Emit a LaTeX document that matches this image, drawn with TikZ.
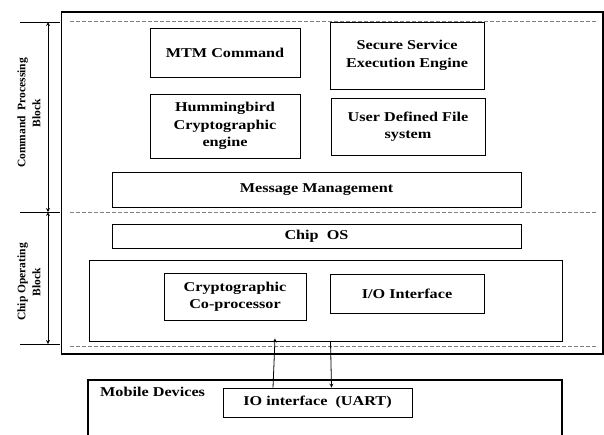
\documentclass[tikz,border=0pt]{standalone}
\usepackage{fontspec}
\setmainfont{Liberation Serif}[FakeStretch=1.2]
\newfontfamily\sidefont{Liberation Serif}
\usepackage{tikz}

\begin{document}
\begin{tikzpicture}[x=1pt, y=-1pt, >=stealth,
  blk/.style = {draw, line width=0.8pt, align=center, inner sep=0pt, font=\fontsize{13.5}{17.5}\selectfont\bfseries},
  frame/.style = {draw, line width=1.6pt, inner sep=0pt},
  sep/.style = {draw=gray, line width=0.8pt, dash pattern=on 4pt off 2pt},
  side/.style = {rotate=90, align=center, font=\fontsize{11.5}{15}\sidefont\bfseries}]
\useasboundingbox (0,0) rectangle (604,434);
\clip (0,0) rectangle (604,434);

% smart card
\node[frame, minimum width=541.5pt, minimum height=342pt] (card) at (332.25,183) {};
\node[blk, minimum width=150pt, minimum height=49pt] (mtm) at (225,52.5) {MTM Command};
\node[blk, minimum width=154pt, minimum height=67pt] (sse) at (407,55.5) {Secure Service\\Execution Engine};
\node[blk, minimum width=150pt, minimum height=64pt] (hum) at (225,126) {Hummingbird\\Cryptographic\\engine};
\node[blk, minimum width=154pt, minimum height=57pt] (udf) at (408,126.5) {User Defined File\\system};
\node[blk, minimum width=409pt, minimum height=35pt] (msg) at (316.5,189.5) {Message Management};
\node[blk, minimum width=409pt, minimum height=24pt] (chipos) at (316.5,236) {Chip\ \ OS};
\node[blk, minimum width=473pt, minimum height=81pt] (hw) at (325.5,300.5) {};
\node[blk, minimum width=142pt, minimum height=47pt] (cop) at (235,296.5) {Cryptographic\\Co-processor};
\node[blk, minimum width=154pt, minimum height=39pt] (io) at (407,293.5) {I/O Interface};

% layers
\coordinate (s1a) at (70,21);  \coordinate (s1b) at (597,21);
\coordinate (s2a) at (70,212); \coordinate (s2b) at (597,212);
\coordinate (s3a) at (70,346); \coordinate (s3b) at (597,346);
\draw[sep] (s1a) -- (s1b);
\draw[sep] (s2a) -- (s2b);
\draw[sep] (s3a) -- (s3b);

% block markers
\coordinate (t1) at (48,22);
\coordinate (t2) at (48,212);
\coordinate (t3) at (48,344);
\foreach \t in {t1,t2,t3}
  \draw[line width=0.8pt] ([xshift=-28pt]\t) -- ([xshift=12pt]\t);
\draw[<->, line width=0.8pt] (t1) -- (t2);
\draw[<->, line width=0.8pt] (t2) -- (t3);
\node[side] (cpb) at (29,113) {Command\ \ Processing\\Block};
\node[side] (cob) at (29,282) {Chip Operating\\Block};

% mobile side
\node[frame, minimum width=474pt, minimum height=100pt] (mob) at (325,430) {};
\node[anchor=west, inner sep=0pt, font=\fontsize{13.5}{15}\selectfont\bfseries] (mobtxt) at (100,392) {Mobile Devices};
\node[blk, minimum width=189pt, minimum height=29pt] (uart) at (317.5,402.5) {IO interface\ \ (UART)};

\draw[->, line width=0.8pt] ([xshift=-44.5pt]uart.north) -- ([xshift=-50.5pt,yshift=3pt]hw.south);
\draw[->, line width=0.8pt] ([xshift=5pt]hw.south) -- ([xshift=14pt]uart.north);
\end{tikzpicture}
\end{document}
